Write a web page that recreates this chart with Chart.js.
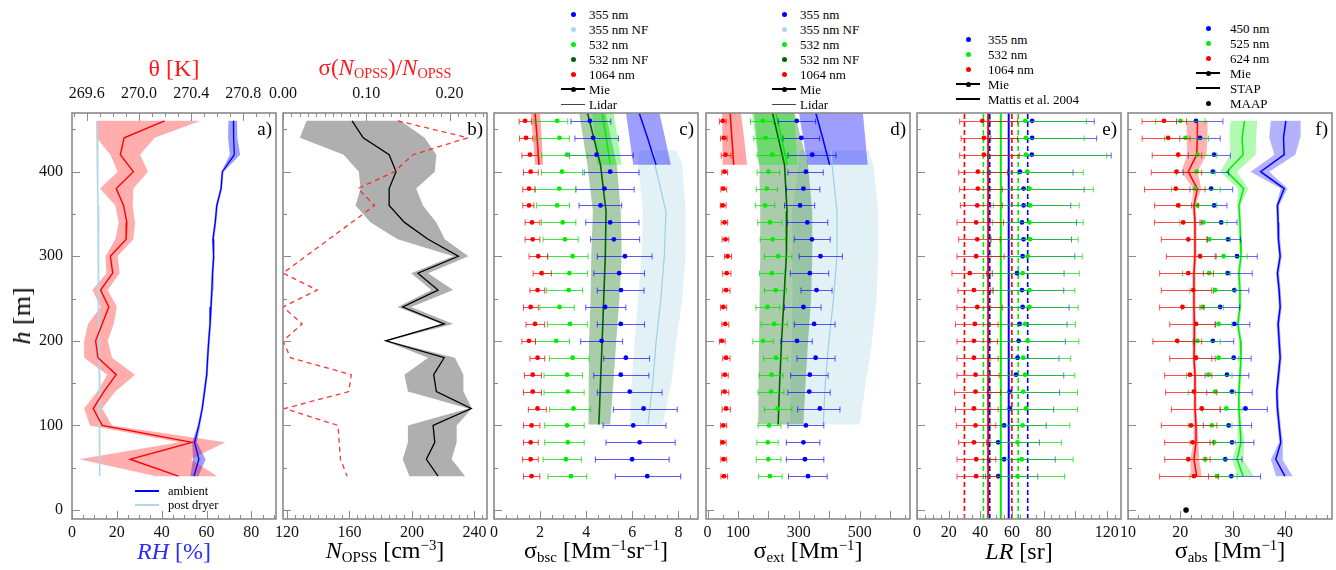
<!DOCTYPE html>
<html><head><meta charset="utf-8">
<script src="https://cdn.jsdelivr.net/npm/chart.js@4.4.1/dist/chart.umd.min.js"></script>
<style>
body{margin:0;background:#fff;}
#wrap{position:relative;width:1336px;height:570px;overflow:hidden;background:#fff;font-family:'Liberation Serif',serif;}
#wrap canvas{position:absolute;}
.t{position:absolute;white-space:nowrap;font-family:'Liberation Serif',serif;color:#000;line-height:1;}
.t sub{font-size:62%;vertical-align:-0.25em;}
.t sup{font-size:62%;vertical-align:0.55em;}
.mk{position:absolute;}
</style></head><body><div id="wrap"></div>
<script>
// ---------------- data ----------------
const yMin = -10.6, yMax = 469.3;
const heights = [460,440,420,400,380,360,340,320,300,280,260,240,220,200,180,160,140,120,100,80,60,40];
const yTickLabels = [0,100,200,300,400];

// panel a
const rhTickLabels = [0,20,40,60,80];
const thetaTickLabels = [269.6,270.0,270.4,270.8];
const theta   = [270.196,269.887,269.857,269.957,269.826,269.882,269.907,269.902,269.781,269.799,269.706,269.769,269.718,269.668,269.686,269.826,269.731,269.650,269.718,270.405,269.932,270.302];
const thetaLo = [269.681,269.675,269.781,269.837,269.701,269.819,269.844,269.819,269.743,269.751,269.643,269.706,269.610,269.580,269.580,269.756,269.681,269.580,269.625,270.310,269.542,270.133];
const thetaHi = [270.473,270.121,270.008,270.070,269.957,269.952,269.970,269.957,269.837,269.852,269.761,269.831,269.806,269.761,269.794,269.970,269.819,269.718,269.794,270.662,270.398,270.599];
const rhAmbient = [72.0,72.1,72.4,67.1,66.5,64.6,63.9,62.9,63.2,62.7,62.4,62.0,61.6,61.0,60.5,60.1,59.1,58.1,56.6,54.7,56.6,54.4];
const rhAmbLo   = [69.8,69.6,70.4,66.6,66.0,64.1,63.4,62.4,62.7,62.2,61.9,61.5,61.1,60.5,60.0,59.6,58.6,57.6,56.0,53.6,54.0,52.8];
const rhAmbHi   = [73.6,73.8,75.0,67.6,67.0,65.1,64.4,63.4,63.7,63.2,62.9,62.5,62.1,61.5,61.0,60.6,59.6,58.6,57.2,55.8,59.6,56.4];
const rhPostDryer = [11.1,11.2,11.4,11.5,11.4,11.6,11.7,11.6,11.8,11.9,11.8,12.0,12.0,12.1,12.0,12.2,12.3,12.2,12.4,12.3,12.4,12.4];

// panel b
const nTickLabels = [120,160,200,240];
const relErrTickLabels = [0.00,0.10,0.20];
const nOpss   = [161.7,168.8,185.4,189.8,185.4,185.4,195.2,210.3,229.7,203.8,216.7,194.1,220.6,183.3,220.6,213.9,215.6,237.9,213.5,214.6,209.2,216.7];
const nOpssLo = [132.6,128.3,156.3,166.0,167.1,163.9,173.6,190.8,226.4,199.5,212.4,190.8,218.9,182.2,210.3,195.2,197.4,236.1,197.4,197.4,194.1,198.4];
const nOpssHi = [192.6,208.1,215.6,214.6,202.7,207.0,215.6,221.0,236.1,210.3,226.4,199.5,226.4,184.4,227.5,232.9,232.9,238.3,228.6,228.6,225.4,234.0];
const relErrH = [460,440,420,400,380,360,280,260,240,220,200,180,160,140,120,100,60,40];
const relErr  = [0.138,0.222,0.156,0.134,0.090,0.110,0.000,0.041,0.000,0.023,0.000,0.009,0.082,0.079,0.002,0.066,0.069,0.077];

// panel c (backscatter)
const bscTickLabels = [0,2,4,6,8];
const bsc1064   = [1.35,1.39,1.56,1.59,1.52,1.52,1.65,1.68,1.92,2.06,1.89,1.59,1.78,1.52,1.89,1.68,1.68,1.89,1.63,1.59,1.59,1.63];
const bsc1064Lo = [1.09,1.11,1.21,1.28,1.25,1.25,1.35,1.35,1.52,1.70,1.56,1.28,1.39,1.21,1.56,1.32,1.28,1.49,1.28,1.28,1.24,1.28];
const bsc1064Hi = [1.63,1.68,1.92,1.92,1.78,1.73,1.99,1.99,2.32,2.49,2.20,1.92,2.20,1.80,2.20,2.06,2.06,2.27,1.99,1.92,1.92,1.99];
const bsc532    = [2.74,2.84,3.17,2.95,2.83,2.74,2.98,3.08,3.41,3.27,3.24,2.84,3.30,2.70,3.41,3.17,3.20,3.45,3.17,3.20,3.12,3.34];
const bsc532Lo  = [1.73,1.78,2.06,2.06,1.78,1.85,2.06,2.13,2.34,2.13,2.27,1.99,2.32,1.80,2.41,2.17,2.17,2.41,2.20,2.20,2.13,2.34];
const bsc532Hi  = [3.20,3.27,4.05,3.84,3.55,3.27,3.55,3.65,4.08,4.05,3.84,3.48,4.05,3.27,4.12,3.84,3.91,4.19,3.91,3.91,3.79,4.02];
const bsc355    = [4.16,4.30,4.45,5.04,4.79,4.62,5.04,5.20,5.68,5.43,5.51,4.82,5.50,4.67,5.72,5.50,5.89,6.49,6.04,6.32,5.99,6.65];
const bsc355Lo  = [3.34,3.51,3.27,3.91,3.55,3.69,3.98,4.19,4.48,4.33,4.48,3.98,4.48,3.76,4.76,4.33,4.48,5.18,4.73,4.86,4.40,5.26];
const bsc355Hi  = [5.07,5.40,6.04,6.29,6.08,5.54,6.29,6.32,6.86,6.53,6.51,5.72,6.53,5.58,6.75,6.72,7.29,7.95,7.46,7.86,7.60,8.10];
const farH = [470,440,408];
const bsc355Lid = [6.29,6.66,7.03], bsc355LidLo = [5.72,5.88,6.04], bsc355LidHi = [7.17,7.42,7.67];
const bsc532Lid = [4.69,4.87,5.04], bsc532LidLo = [4.26,4.37,4.47], bsc532LidHi = [5.18,5.36,5.54];
const bsc1064Lid = [1.78,1.87,1.95], bsc1064LidLo = [1.60,1.69,1.78], bsc1064LidHi = [2.00,2.07,2.13];
const nf532H = [470,408,353,301,250,198,151,101];
const bsc532NF   = [4.05,4.62,4.86,4.83,4.76,4.69,4.62,4.55];
const bsc532NFLo = [3.69,4.05,4.29,4.22,4.19,4.12,4.08,4.12];
const bsc532NFHi = [4.83,5.33,5.50,5.54,5.44,5.30,5.18,5.04];
const nf355H = [425,408,353,301,250,198,151,101];
const bsc355NF   = [6.90,6.98,7.46,7.39,7.24,7.03,6.89,6.68];
const bsc355NFLo = [6.30,6.25,6.46,6.40,6.25,6.10,5.97,5.89];
const bsc355NFHi = [7.90,8.17,8.31,8.31,8.17,7.90,7.70,7.32];

// panel d (extinction)
const extTickLabels = [0,100,300,500];
const ext1064   = [50,53.5,59,56,52,50,56,59,66,63,61,52,58,47,61,57,56,61,52,50,53,54];
const ext1064Lo = [39,43,45,47,44,42,45,48,56,50,50,43,47,39,50,47,46,48,43,43,44,44];
const ext1064Hi = [61,64,77,66,63,61,66,70,79,77,74,63,70,58,74,68,70,75,63,61,63,66];
const ext532    = [182,191,213,200,195,189,205,214,232,211,224,197,219,182,225,210,209,230,202,198,200,205];
const ext532Lo  = [141,152,163,163,160,157,165,173,187,171,187,159,176,149,184,170,166,187,166,162,160,168];
const ext532Hi  = [216,248,262,237,230,221,245,256,277,253,259,237,262,216,262,248,251,277,241,232,241,245];
const ext355    = [293,308,344,323,315,304,328,343,371,336,358,315,350,294,355,336,334,369,323,315,320,330];
const ext355Lo  = [232,248,264,264,259,253,262,285,301,272,307,253,285,241,294,273,264,296,264,259,259,266];
const ext355Hi  = [355,368,422,380,369,352,395,403,443,398,409,373,419,344,419,396,403,435,382,369,382,393];
const ext355Lid = [355,378,401], ext355LidLo = [300,314,328], ext355LidHi = [510,518,526];
const ext532Lid = [224,243,262], ext532LidLo = [146,157,168], ext532LidHi = [285,290,296];
const ext1064Lid = [74,80,86], ext1064LidLo = [48,49,50], ext1064LidHi = [109,120,130];
const ext532NF   = [213,253,261,259,251,243,237,232];
const ext532NFLo = [152,170,173,173,171,169,167,166];
const ext532NFHi = [285,330,344,344,340,330,322,315];
const ext355NF   = [405,409,425,425,414,398,387,380];
const ext355NFLo = [300,300,278,280,278,276,273,270];
const ext355NFHi = [530,545,561,561,555,540,520,500];

// panel e (lidar ratio)
const lrTickLabels = [0,20,40,60,80,120];
const lr1064   = [41.3,42.3,42.3,38.5,38.5,38.1,37.4,38.1,37.4,33.4,36.0,38.1,36.6,36.0,36.0,37.0,37.0,36.0,37.0,36.0,37.4,37.4];
const lr1064Lo = [27.0,27.9,27.0,26.4,27.0,27.4,25.3,26.4,25.3,22.1,25.9,25.3,24.3,25.3,25.3,25.3,23.8,24.3,24.9,26.4,25.3,25.3];
const lr1064Hi = [63.6,63.6,64.7,57.2,54.0,54.0,54.7,52.6,55.1,47.7,48.3,54.0,51.3,50.9,51.3,51.9,53.0,51.3,49.8,45.5,49.8,51.3];
const lr532    = [68.5,68.9,68.9,69.8,71.1,71.5,71.1,71.5,70.0,66.8,71.1,71.1,68.5,70.0,67.2,68.5,67.2,68.9,66.8,63.6,66.2,63.6];
const lr532Lo  = [46.2,46.6,45.5,45.5,46.6,48.3,47.7,47.0,46.6,46.6,47.7,46.6,45.5,46.6,46.6,45.5,46.6,46.6,46.6,46.6,46.6,45.5];
const lr532Hi  = [107.2,105.7,120.0,105.1,111.5,102.6,105.1,101.9,104.5,102.6,99.8,101.9,100.2,102.3,97.2,99.8,101.5,101.5,96.6,91.3,98.7,93.4];
const lr355    = [72.8,72.8,72.6,65.1,67.4,67.4,66.4,67.4,66.8,63.2,66.4,66.8,64.9,64.3,63.6,62.6,58.7,58.7,55.1,51.3,55.1,51.3];
const lr355Lo  = [46.2,46.6,44.9,44.5,45.5,46.6,46.0,46.6,45.1,44.0,46.6,45.5,44.9,45.5,45.5,46.0,44.5,45.5,45.5,44.0,44.5,43.4];
const lr355Hi  = [112.1,113.6,122.8,98.7,105.7,97.2,100.9,97.7,99.8,93.0,92.8,96.2,94.9,93.8,89.8,92.8,90.2,86.4,81.7,77.4,87.4,76.4];
const mattisWavelengths = ['355','532','1064'];
const mattisLR  = [58,53,45];
const mattisErr = [12,11,15];

// panel f (absorption)
const absTickLabels = [10,20,30,40];
const abs624   = [16.89,17.66,19.59,19.27,19.14,19.59,20.55,21.52,23.77,21.52,22.48,20.42,23.00,19.40,23.00,21.84,22.61,24.09,22.03,22.36,21.52,22.61];
const abs624Lo = [12.70,12.70,14.63,14.44,13.15,15.08,15.08,16.37,17.34,16.05,16.37,16.05,17.98,14.76,17.98,17.01,17.21,18.30,16.37,17.01,17.01,16.05];
const abs624Hi = [21.20,21.84,24.09,24.09,24.74,23.45,24.09,25.19,26.86,26.34,26.02,24.54,26.67,24.09,26.67,26.02,26.99,27.63,26.99,26.34,25.70,27.31];
const abs525   = [20.04,21.00,23.26,23.13,22.81,23.26,24.41,25.57,28.28,25.51,26.67,24.29,27.31,23.26,27.31,25.38,26.67,28.79,26.02,26.47,24.74,26.99];
const abs525Lo = [15.28,17.01,19.59,19.27,18.30,19.91,19.91,21.52,24.09,20.42,21.84,20.23,22.81,19.59,23.00,21.20,21.52,24.29,21.52,21.84,21.52,21.84];
const abs525Hi = [24.74,25.38,26.99,26.67,27.63,26.99,28.92,29.56,32.78,29.56,30.53,28.28,29.88,27.63,31.17,29.88,30.53,31.81,29.88,30.53,28.79,30.85];
const abs450   = [23.00,23.77,26.47,26.22,25.89,26.47,27.82,29.11,30.85,29.05,30.33,27.63,30.33,26.22,30.21,28.92,29.88,32.46,29.24,29.88,28.60,29.76];
const abs450Lo = [19.27,19.91,21.52,20.55,21.84,22.16,23.77,25.06,26.67,24.41,26.34,23.77,26.67,22.48,26.02,24.74,25.06,27.63,24.41,25.70,24.74,25.38];
const abs450Hi = [28.15,27.63,29.56,29.24,30.01,28.92,30.85,31.49,34.71,33.75,33.10,31.36,33.29,30.21,33.55,33.10,33.75,36.64,33.62,34.07,31.81,35.35];
const stap624   = [23.26,23.26,23.13,21.52,23.26,22.61,22.81,22.81,22.81,22.61,22.61,22.61,22.68,22.68,22.61,22.81,22.81,22.81,23.00,23.00,22.61,23.13];
const stap624Lo = [21.2,21.2,21.3,20.2,22.4,22.3,22.5,22.5,22.5,22.3,22.3,22.3,22.4,22.4,22.3,22.5,22.5,22.5,22.6,22.5,21.9,22.0];
const stap624Hi = [25.2,25.2,25.0,23.3,24.0,22.9,23.1,23.1,23.1,22.9,22.9,22.9,23.0,23.0,22.9,23.1,23.1,23.1,23.3,23.5,23.6,24.1];
const stap525   = [32.27,31.81,32.0,28.9,32.1,31.2,31.4,31.5,31.6,31.2,31.4,31.4,31.0,31.5,31.6,31.4,31.2,31.2,31.4,31.6,30.85,32.0];
const stap525Lo = [29.6,29.4,29.6,27.6,31.0,30.9,31.1,31.2,31.3,30.9,31.1,31.1,30.7,31.2,31.3,31.1,30.9,30.9,31.0,31.0,29.9,30.9];
const stap525Hi = [34.7,34.5,34.4,30.8,33.0,31.5,31.7,31.8,31.9,31.5,31.7,31.7,31.3,31.8,31.9,31.7,31.5,31.5,31.8,32.3,32.0,34.1];
const stap450   = [40.18,39.73,39.86,35.35,39.86,38.57,38.70,38.76,39.09,38.57,38.89,39.09,38.70,38.89,39.09,38.76,38.44,38.57,38.89,39.21,38.25,39.99];
const stap450Lo = [37.3,37.0,38.0,33.4,39.2,38.3,38.4,38.5,38.8,38.3,38.6,38.8,38.4,38.6,38.8,38.5,38.2,38.3,38.6,38.9,37.3,38.3];
const stap450Hi = [43.0,42.9,42.0,37.0,40.5,38.9,39.0,39.1,39.4,38.9,39.2,39.4,39.0,39.2,39.4,39.1,38.8,38.9,39.2,39.6,39.5,41.5];
const maapH = [0];
const maapAbs = [21.1];

// ---------------- colours ----------------
const C = {
  red:'#ff0000', blue:'#0000ff', lime:'#00ee00', dkgreen:'#006400', ltblue:'#add8e6', black:'#000000'
};

// ---------------- layout ----------------
const frameLefts = [72, 283, 494, 706, 917, 1128];
const FW = 204, FT = 113, FH = 406;
const PADL = 50, PADR = 20, PADT = 34, PADB = 34;
const wrap = document.getElementById('wrap');
const tickFont = {family:'Liberation Serif', size:16};

function pts(xs, hs){ return xs.map((v,i)=>({x:v, y:hs[i]})); }
function poly(lo, hi, hs){ return pts(lo,hs).concat(pts(hi,hs).reverse()); }
function bandDs(lo, hi, hs, color, order, axis){
  return {data:poly(lo,hi,hs), xAxisID:axis||'x', fill:'shape', backgroundColor:color,
          borderColor:'rgba(0,0,0,0)', borderWidth:0, pointRadius:0, tension:0, order:order};
}
function lineDs(xs, hs, color, w, order, axis, dash){
  return {data:pts(xs,hs), xAxisID:axis||'x', fill:false, borderColor:color, borderWidth:w,
          pointRadius:0, tension:0, borderDash:dash||[], order:order};
}
function mieDs(xs, lo, hi, hs, color, errColor){
  return {data:pts(xs,hs), xAxisID:'x', showLine:false, fill:false, pointRadius:2.4, pointHoverRadius:2.4,
          pointBackgroundColor:color, pointBorderWidth:0, borderColor:color,
          errLo:lo, errHi:hi, errColor:errColor, order:0};
}

const errorBars = {
  id:'errorBars',
  beforeDatasetDraw(chart, args){
    const ds = chart.data.datasets[args.index];
    if (!ds.errLo) return;
    const xs = chart.scales[ds.xAxisID || 'x'], ys = chart.scales.y, ctx = chart.ctx;
    ctx.save();
    ctx.strokeStyle = ds.errColor; ctx.lineWidth = 1;
    ds.data.forEach((p,i)=>{
      const y = Math.round(ys.getPixelForValue(p.y)) + 0.5;
      const x1 = xs.getPixelForValue(ds.errLo[i]), x2 = xs.getPixelForValue(ds.errHi[i]);
      ctx.beginPath();
      ctx.moveTo(x1,y); ctx.lineTo(x2,y);
      ctx.moveTo(x1,y-3); ctx.lineTo(x1,y+3);
      ctx.moveTo(x2,y-3); ctx.lineTo(x2,y+3);
      ctx.stroke();
    });
    ctx.restore();
  }
};

function stepVals(min, max, step){
  const out = [];
  const k0 = Math.ceil(min/step - 1e-9), k1 = Math.floor(max/step + 1e-9);
  for (let k=k0; k<=k1; k++) out.push(+(k*step).toFixed(6));
  return out;
}

const frameTicks = {
  id:'frameTicks',
  afterDraw(chart, args, o){
    const ctx = chart.ctx, a = chart.chartArea;
    ctx.save();
    ctx.strokeStyle = '#8a8a8a'; ctx.lineWidth = 1;
    const seg = (x1,y1,x2,y2)=>{ ctx.beginPath(); ctx.moveTo(x1,y1); ctx.lineTo(x2,y2); ctx.stroke(); };
    const ys = chart.scales.y;
    stepVals(0, yMax, 50).forEach(v=>{
      const p = Math.round(ys.getPixelForValue(v))+0.5;
      seg(a.left, p, a.left + (v % 100 === 0 ? 8 : 4), p);
    });
    const xs = chart.scales.x;
    stepVals(xs.min, xs.max, o.xMinor).forEach(v=>{
      const p = Math.round(xs.getPixelForValue(v))+0.5;
      const major = Math.abs(v/o.xMajor - Math.round(v/o.xMajor)) < 1e-6;
      seg(p, a.bottom, p, a.bottom - (major ? 8 : 4));
    });
    if (chart.scales.x2){
      const x2 = chart.scales.x2;
      stepVals(x2.min, x2.max, o.x2Minor).forEach(v=>{
        const p = Math.round(x2.getPixelForValue(v))+0.5;
        const major = Math.abs(v/o.x2Major - Math.round(v/o.x2Major)) < 1e-6;
        seg(p, a.top, p, a.top + (major ? 8 : 4));
      });
    }
    ctx.lineWidth = 1.6;
    ctx.strokeRect(a.left, a.top, a.right - a.left, a.bottom - a.top);
    ctx.restore();
  }
};

function zeroPad(s){ s.paddingLeft = 0; s.paddingRight = 0; s.paddingTop = 0; s.paddingBottom = 0; }

function makeChart(k, cfg){
  const cv = document.createElement('canvas');
  const W = PADL + FW + PADR, H = PADT + FH + PADB;
  cv.width = W; cv.height = H;
  cv.style.left = (frameLefts[k]-PADL)+'px'; cv.style.top = (FT-PADT)+'px';
  cv.style.width = W+'px'; cv.style.height = H+'px';
  wrap.appendChild(cv);
  const fix = arr => s => { s.ticks = arr.map(v=>({value:v})); };
  const scales = {
    x:{type:'linear', position:'bottom', min:cfg.xMin, max:cfg.xMax,
       afterBuildTicks:fix(cfg.xLabels), afterFit:s=>{ s.height = PADB; zeroPad(s); },
       ticks:{autoSkip:false, maxRotation:0, minRotation:0, padding:4, font:tickFont, color:'#111',
              callback:cfg.xFmt || (v=>String(v))},
       grid:{display:false, drawTicks:false}, border:{display:false}},
    y:{type:'linear', position:'left', min:yMin, max:yMax,
       afterBuildTicks:fix(yTickLabels), afterFit:s=>{ s.width = PADL; zeroPad(s); },
       ticks:{display:k===0, autoSkip:false, padding:9, font:tickFont, color:'#111'},
       grid:{display:false, drawTicks:false}, border:{display:false}}
  };
  if (cfg.x2){
    scales.x2 = {type:'linear', position:'top', min:cfg.x2.min, max:cfg.x2.max,
       afterBuildTicks:fix(cfg.x2.labels), afterFit:s=>{ s.height = PADT; zeroPad(s); },
       ticks:{autoSkip:false, maxRotation:0, minRotation:0, padding:10, font:tickFont, color:'#111',
              callback:cfg.x2.fmt},
       grid:{display:false, drawTicks:false}, border:{display:false}};
  }
  return new Chart(cv, {
    type:'line',
    data:{datasets:cfg.datasets},
    options:{responsive:false, animation:false, devicePixelRatio:1, events:[],
      layout:{padding:{left:0, right:PADR, top:cfg.x2 ? 0 : PADT, bottom:0}},
      scales:scales,
      plugins:{legend:{display:false}, tooltip:{enabled:false},
               frameTicks:{xMajor:cfg.xMajor, xMinor:cfg.xMinor,
                           x2Major:cfg.x2 ? cfg.x2.major : 1, x2Minor:cfg.x2 ? cfg.x2.minor : 1}}},
    plugins:[errorBars, frameTicks]
  });
}

// ---------- panel a ----------
makeChart(0, {
  xMin:0, xMax:91, xLabels:rhTickLabels, xMajor:20, xMinor:5,
  x2:{min:269.487, max:271.05, labels:thetaTickLabels, fmt:v=>v.toFixed(1), major:0.4, minor:0.1},
  datasets:[
    bandDs(thetaLo, thetaHi, heights, 'rgba(255,0,0,0.32)', 4, 'x2'),
    bandDs(rhAmbLo, rhAmbHi, heights, 'rgba(0,0,255,0.38)', 4),
    lineDs(rhPostDryer, heights, C.ltblue, 1.6, 2),
    lineDs(theta, heights, C.red, 1.4, 1, 'x2'),
    lineDs(rhAmbient, heights, C.blue, 1.3, 1)
  ]
});

// ---------- panel b ----------
makeChart(1, {
  xMin:117.5, xMax:248, xLabels:nTickLabels, xMajor:40, xMinor:5,
  x2:{min:0, max:0.245, labels:relErrTickLabels, fmt:v=>v.toFixed(2), major:0.1, minor:0.01},
  datasets:[
    bandDs(nOpssLo, nOpssHi, heights, 'rgba(110,110,110,0.55)', 4),
    lineDs(nOpss, heights, C.black, 1.3, 1),
    lineDs(relErr, relErrH, 'rgba(255,30,30,0.9)', 1.3, 0, 'x2', [5,4])
  ]
});

// ---------- panel c ----------
makeChart(2, {
  xMin:0, xMax:8.85, xLabels:bscTickLabels, xMajor:2, xMinor:0.5,
  datasets:[
    bandDs(bsc355NFLo, bsc355NFHi, nf355H, 'rgba(173,216,230,0.35)', 6),
    bandDs(bsc532NFLo, bsc532NFHi, nf532H, 'rgba(0,100,0,0.33)', 5),
    bandDs(bsc355LidLo, bsc355LidHi, farH, 'rgba(0,0,255,0.38)', 4),
    bandDs(bsc532LidLo, bsc532LidHi, farH, 'rgba(0,238,0,0.35)', 4),
    bandDs(bsc1064LidLo, bsc1064LidHi, farH, 'rgba(255,0,0,0.35)', 4),
    lineDs(bsc355NF, nf355H, '#9fcfe0', 1.2, 2),
    lineDs(bsc532NF, nf532H, C.dkgreen, 1.6, 1),
    lineDs(bsc355Lid, farH, C.blue, 1.5, 1),
    lineDs(bsc532Lid, farH, C.lime, 1.5, 1),
    lineDs(bsc1064Lid, farH, C.red, 1.5, 1),
    mieDs(bsc1064, bsc1064Lo, bsc1064Hi, heights, C.red, 'rgba(255,0,0,0.75)'),
    mieDs(bsc532, bsc532Lo, bsc532Hi, heights, C.lime, 'rgba(0,220,0,0.75)'),
    mieDs(bsc355, bsc355Lo, bsc355Hi, heights, C.blue, 'rgba(0,0,255,0.65)')
  ]
});

// ---------- panel d ----------
makeChart(3, {
  xMin:-5, xMax:665, xLabels:extTickLabels, xMajor:100, xMinor:50,
  datasets:[
    bandDs(ext355NFLo, ext355NFHi, nf355H, 'rgba(173,216,230,0.35)', 6),
    bandDs(ext532NFLo, ext532NFHi, nf532H, 'rgba(0,100,0,0.33)', 5),
    bandDs(ext355LidLo, ext355LidHi, farH, 'rgba(0,0,255,0.38)', 4),
    bandDs(ext532LidLo, ext532LidHi, farH, 'rgba(0,238,0,0.35)', 4),
    bandDs(ext1064LidLo, ext1064LidHi, farH, 'rgba(255,0,0,0.35)', 4),
    lineDs(ext355NF, nf355H, '#9fcfe0', 1.2, 2),
    lineDs(ext532NF, nf532H, C.dkgreen, 1.6, 1),
    lineDs(ext355Lid, farH, C.blue, 1.5, 1),
    lineDs(ext532Lid, farH, C.lime, 1.5, 1),
    lineDs(ext1064Lid, farH, C.red, 1.5, 1),
    mieDs(ext1064, ext1064Lo, ext1064Hi, heights, C.red, 'rgba(255,0,0,0.75)'),
    mieDs(ext532, ext532Lo, ext532Hi, heights, C.lime, 'rgba(0,220,0,0.75)'),
    mieDs(ext355, ext355Lo, ext355Hi, heights, C.blue, 'rgba(0,0,255,0.65)')
  ]
});

// ---------- panel e ----------
const mattisColors = [C.blue, C.lime, C.red];
const eDatasets = [];
mattisLR.forEach((v,i)=>{
  eDatasets.push(lineDs([v,v], [yMin,yMax], mattisColors[i], 2, 2));
  eDatasets.push(lineDs([v-mattisErr[i], v-mattisErr[i]], [yMin,yMax], mattisColors[i], 1.6, 2, 'x', [5,3]));
  eDatasets.push(lineDs([v+mattisErr[i], v+mattisErr[i]], [yMin,yMax], mattisColors[i], 1.6, 2, 'x', [5,3]));
});
eDatasets.push(mieDs(lr1064, lr1064Lo, lr1064Hi, heights, C.red, 'rgba(255,0,0,0.7)'));
eDatasets.push(mieDs(lr532, lr532Lo, lr532Hi, heights, C.lime, 'rgba(0,220,0,0.7)'));
eDatasets.push(mieDs(lr355, lr355Lo, lr355Hi, heights, C.blue, 'rgba(0,0,255,0.6)'));
makeChart(4, {
  xMin:0, xMax:129, xLabels:lrTickLabels, xMajor:20, xMinor:5,
  datasets:eDatasets
});

// ---------- panel f ----------
makeChart(5, {
  xMin:10, xMax:49, xLabels:absTickLabels, xMajor:10, xMinor:2,
  datasets:[
    bandDs(stap624Lo, stap624Hi, heights, 'rgba(255,0,0,0.3)', 4),
    bandDs(stap525Lo, stap525Hi, heights, 'rgba(0,238,0,0.3)', 4),
    bandDs(stap450Lo, stap450Hi, heights, 'rgba(0,0,255,0.3)', 4),
    lineDs(stap624, heights, C.red, 1.5, 1),
    lineDs(stap525, heights, C.lime, 1.5, 1),
    lineDs(stap450, heights, C.blue, 1.5, 1),
    mieDs(abs624, abs624Lo, abs624Hi, heights, C.red, 'rgba(255,0,0,0.7)'),
    mieDs(abs525, abs525Lo, abs525Hi, heights, C.lime, 'rgba(0,220,0,0.7)'),
    mieDs(abs450, abs450Lo, abs450Hi, heights, C.blue, 'rgba(0,0,255,0.6)'),
    {data:pts(maapAbs, maapH), showLine:false, pointRadius:2.8, pointBackgroundColor:'#000', pointBorderWidth:0, order:0}
  ]
});

// ---------------- text: titles, panel labels, legends ----------------
function txt(html, x, y, style){
  const d = document.createElement('div');
  d.className = 't'; d.innerHTML = html;
  d.style.left = x+'px'; d.style.top = y+'px';
  d.style.transform = 'translate(-50%,-50%)';
  Object.assign(d.style, style||{});
  wrap.appendChild(d); return d;
}
function txtL(html, x, y, style){
  const d = txt(html, x, y, style); d.style.transform = 'translate(0,-50%)'; return d;
}
function mark(x, y, w, h, color, round){
  const d = document.createElement('div');
  d.className = 'mk';
  d.style.left = (x - w/2)+'px'; d.style.top = (y - h/2)+'px';
  d.style.width = w+'px'; d.style.height = h+'px'; d.style.background = color;
  if (round) d.style.borderRadius = '50%';
  wrap.appendChild(d);
}
const cx = k => frameLefts[k] + FW/2;

// axis titles
txt('<i>h</i> [m]', 22, 316, {fontSize:'26px', transform:'translate(-50%,-50%) rotate(-90deg)'});
txt('θ [K]', cx(0), 68, {fontSize:'24px', color:'#ff1a1a'});
txt('σ(<i>N</i><sub>OPSS</sub>)/<i>N</i><sub>OPSS</sub>', cx(1), 68, {fontSize:'23px', color:'#ff1a1a'});
txt('<i>RH</i> [%]', cx(0), 551, {fontSize:'24px', color:'#2b2bff'});
txt('<i>N</i><sub>OPSS</sub> [cm<sup>−3</sup>]', cx(1), 551, {fontSize:'24px'});
txt('σ<sub>bsc</sub> [Mm<sup>−1</sup>sr<sup>−1</sup>]', cx(2), 551, {fontSize:'24px'});
txt('σ<sub>ext</sub> [Mm<sup>−1</sup>]', cx(3), 551, {fontSize:'24px'});
txt('<i>LR</i> [sr]', cx(4), 551, {fontSize:'24px'});
txt('σ<sub>abs</sub> [Mm<sup>−1</sup>]', cx(5), 551, {fontSize:'24px'});

// panel letters
['a)','b)','c)','d)','e)','f)'].forEach((s,k)=>{
  const d = txt(s, frameLefts[k] + FW - 4, FT + 15, {fontSize:'19px'});
  d.style.transform = 'translate(-100%,-50%)';
});

// legend of panel a
mark(147, 491, 24, 1.5, C.blue);
txtL('ambient', 168, 491, {fontSize:'12.5px'});
mark(147, 505, 24, 1.8, C.ltblue);
txtL('post dryer', 168, 505, {fontSize:'12.5px'});

function legend(items, dotX, textX, y0, dy){
  items.forEach((it,i)=>{
    const y = y0 + i*dy;
    if (it.line) mark(dotX, y, 24, it.lw || 1.5, it.line);
    if (it.dot) mark(dotX, y, 5, 5, it.dot, true);
    txtL(it.label, textX, y, {fontSize:'13px'});
  });
}
const lgCD = [
  {label:'355 nm', dot:C.blue}, {label:'355 nm NF', dot:C.ltblue},
  {label:'532 nm', dot:C.lime}, {label:'532 nm NF', dot:C.dkgreen},
  {label:'1064 nm', dot:C.red}, {label:'Mie', dot:'#000', line:'#000'},
  {label:'Lidar', line:'#444', lw:1}
];
legend(lgCD, 573, 589, 14, 15);
legend(lgCD, 784, 800, 14, 15);
legend([
  {label:'355 nm', dot:C.blue}, {label:'532 nm', dot:C.lime}, {label:'1064 nm', dot:C.red},
  {label:'Mie', dot:'#000', line:'#000'}, {label:'Mattis et al. 2004', line:'#000'}
], 968, 988, 39, 15);
legend([
  {label:'450 nm', dot:C.blue}, {label:'525 nm', dot:C.lime}, {label:'624 nm', dot:C.red},
  {label:'Mie', dot:'#000', line:'#000'}, {label:'STAP', line:'#000'}, {label:'MAAP', dot:'#000'}
], 1208, 1230, 28, 15);
</script>
</body></html>
